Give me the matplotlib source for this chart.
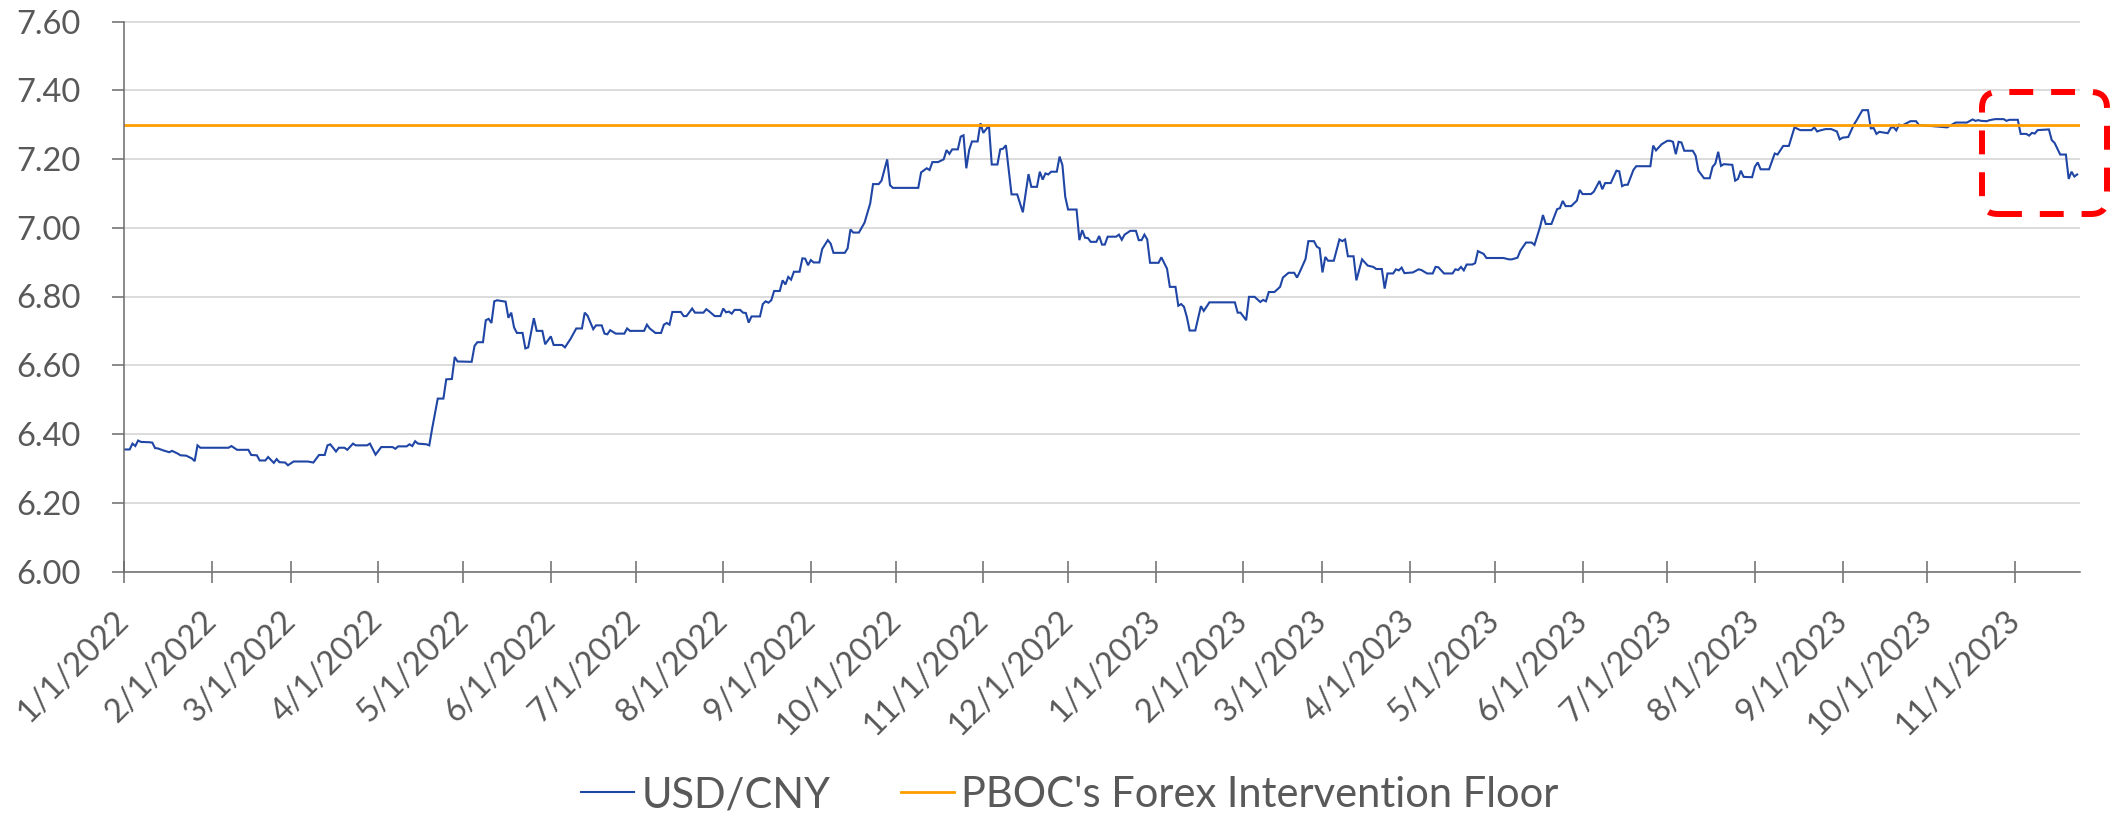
import matplotlib
matplotlib.use("Agg")
import matplotlib.pyplot as plt
from matplotlib.patches import FancyBboxPatch
from matplotlib.transforms import IdentityTransform
import pandas as pd

plt.rcParams['font.family'] = ['Lato', 'DejaVu Sans']

# ---------------- data ----------------
dates = [
 "2022-01-01","2022-01-03","2022-01-04","2022-01-05","2022-01-06","2022-01-07","2022-01-10","2022-01-11",
 "2022-01-12","2022-01-13","2022-01-15","2022-01-17","2022-01-18","2022-01-20","2022-01-21","2022-01-23",
 "2022-01-25","2022-01-26","2022-01-27","2022-01-28","2022-02-07","2022-02-08","2022-02-10","2022-02-14",
 "2022-02-15","2022-02-17","2022-02-18","2022-02-20","2022-02-21","2022-02-23","2022-02-24","2022-02-25",
 "2022-02-27","2022-02-28","2022-03-02","2022-03-07","2022-03-09","2022-03-11","2022-03-13","2022-03-14",
 "2022-03-15","2022-03-17","2022-03-18","2022-03-20","2022-03-21","2022-03-23","2022-03-24","2022-03-28",
 "2022-03-29","2022-03-31","2022-04-02","2022-04-06","2022-04-07","2022-04-08","2022-04-11","2022-04-12",
 "2022-04-13","2022-04-14","2022-04-15","2022-04-18","2022-04-19","2022-04-20","2022-04-22","2022-04-24",
 "2022-04-25","2022-04-27","2022-04-28","2022-04-29","2022-05-04","2022-05-05","2022-05-06","2022-05-08",
 "2022-05-09","2022-05-10","2022-05-11","2022-05-12","2022-05-13","2022-05-16","2022-05-17","2022-05-18",
 "2022-05-19","2022-05-20","2022-05-22","2022-05-23","2022-05-24","2022-05-26","2022-05-27","2022-05-29",
 "2022-05-30","2022-06-01","2022-06-02","2022-06-05","2022-06-06","2022-06-08","2022-06-10","2022-06-12",
 "2022-06-13","2022-06-14","2022-06-16","2022-06-17","2022-06-19","2022-06-20","2022-06-21","2022-06-22",
 "2022-06-24","2022-06-27","2022-06-28","2022-06-29","2022-07-04","2022-07-05","2022-07-06","2022-07-08",
 "2022-07-10","2022-07-11","2022-07-12","2022-07-13","2022-07-14","2022-07-17","2022-07-18","2022-07-19",
 "2022-07-21","2022-07-22","2022-07-25","2022-07-26","2022-07-27","2022-07-29","2022-07-31","2022-08-01",
 "2022-08-02","2022-08-03","2022-08-04","2022-08-05","2022-08-07","2022-08-08","2022-08-09","2022-08-10",
 "2022-08-11","2022-08-14","2022-08-15","2022-08-16","2022-08-17","2022-08-18","2022-08-19","2022-08-21",
 "2022-08-22","2022-08-23","2022-08-24","2022-08-25","2022-08-26","2022-08-28","2022-08-29","2022-08-30",
 "2022-08-31","2022-09-01","2022-09-02","2022-09-04","2022-09-05","2022-09-07","2022-09-08","2022-09-09",
 "2022-09-13","2022-09-14","2022-09-15","2022-09-16","2022-09-18","2022-09-20","2022-09-22","2022-09-23",
 "2022-09-25","2022-09-26","2022-09-28","2022-09-29","2022-09-30","2022-10-09","2022-10-10","2022-10-12",
 "2022-10-13","2022-10-14","2022-10-16","2022-10-18","2022-10-19","2022-10-20","2022-10-21","2022-10-23",
 "2022-10-24","2022-10-25","2022-10-26","2022-10-27","2022-10-28","2022-10-30","2022-10-31","2022-11-01",
 "2022-11-03","2022-11-04","2022-11-06","2022-11-07","2022-11-08","2022-11-09","2022-11-11","2022-11-13",
 "2022-11-15","2022-11-17","2022-11-18","2022-11-20","2022-11-21","2022-11-22","2022-11-23","2022-11-24",
 "2022-11-25","2022-11-27","2022-11-28","2022-11-29","2022-11-30","2022-12-01","2022-12-04","2022-12-05",
 "2022-12-06","2022-12-07","2022-12-08","2022-12-09","2022-12-11","2022-12-12","2022-12-13","2022-12-14",
 "2022-12-15","2022-12-18","2022-12-19","2022-12-20","2022-12-21","2022-12-23","2022-12-25","2022-12-26",
 "2022-12-27","2022-12-28","2022-12-29","2022-12-30","2023-01-02","2023-01-03","2023-01-05","2023-01-06",
 "2023-01-08","2023-01-09","2023-01-10","2023-01-11","2023-01-12","2023-01-13","2023-01-15","2023-01-17",
 "2023-01-18","2023-01-20","2023-01-29","2023-01-30","2023-01-31","2023-02-02","2023-02-03","2023-02-05",
 "2023-02-07","2023-02-08","2023-02-09","2023-02-10","2023-02-12","2023-02-14","2023-02-15","2023-02-17",
 "2023-02-19","2023-02-20","2023-02-21","2023-02-23","2023-02-24","2023-02-26","2023-02-27","2023-02-28",
 "2023-03-01","2023-03-02","2023-03-03","2023-03-05","2023-03-07","2023-03-08","2023-03-09","2023-03-10",
 "2023-03-12","2023-03-13","2023-03-15","2023-03-17","2023-03-19","2023-03-20","2023-03-22","2023-03-23",
 "2023-03-24","2023-03-26","2023-03-27","2023-03-28","2023-03-29","2023-03-30","2023-04-02","2023-04-04",
 "2023-04-05","2023-04-07","2023-04-09","2023-04-10","2023-04-11","2023-04-13","2023-04-16","2023-04-17",
 "2023-04-18","2023-04-19","2023-04-20","2023-04-21","2023-04-23","2023-04-24","2023-04-25","2023-04-27",
 "2023-04-28","2023-05-04","2023-05-06","2023-05-07","2023-05-09","2023-05-10","2023-05-12","2023-05-14",
 "2023-05-15","2023-05-17","2023-05-18","2023-05-19","2023-05-21","2023-05-23","2023-05-24","2023-05-25",
 "2023-05-26","2023-05-28","2023-05-30","2023-05-31","2023-06-01","2023-06-04","2023-06-05","2023-06-07",
 "2023-06-08","2023-06-09","2023-06-11","2023-06-13","2023-06-14","2023-06-15","2023-06-16","2023-06-17",
 "2023-06-19","2023-06-20","2023-06-25","2023-06-26","2023-06-27","2023-06-29","2023-07-01","2023-07-02",
 "2023-07-03","2023-07-04","2023-07-05","2023-07-06","2023-07-07","2023-07-10","2023-07-11","2023-07-12",
 "2023-07-14","2023-07-16","2023-07-17","2023-07-18","2023-07-19","2023-07-20","2023-07-21","2023-07-24",
 "2023-07-25","2023-07-26","2023-07-27","2023-07-28","2023-07-31","2023-08-01","2023-08-02","2023-08-03",
 "2023-08-06","2023-08-08","2023-08-09","2023-08-11","2023-08-13","2023-08-14","2023-08-15","2023-08-17",
 "2023-08-21","2023-08-22","2023-08-23","2023-08-24","2023-08-26","2023-08-28","2023-08-30","2023-08-31",
 "2023-09-01","2023-09-03","2023-09-05","2023-09-06","2023-09-08","2023-09-10","2023-09-11","2023-09-12",
 "2023-09-13","2023-09-14","2023-09-17","2023-09-18","2023-09-19","2023-09-20","2023-09-21","2023-09-22",
 "2023-09-25","2023-09-27","2023-09-28","2023-10-08","2023-10-11","2023-10-15","2023-10-17","2023-10-18",
 "2023-10-19","2023-10-20","2023-10-22","2023-10-23","2023-10-25","2023-10-28","2023-10-29","2023-10-30",
 "2023-11-02","2023-11-03","2023-11-05","2023-11-06","2023-11-07","2023-11-08","2023-11-09","2023-11-13",
 "2023-11-14","2023-11-15","2023-11-17","2023-11-19","2023-11-20","2023-11-21","2023-11-22","2023-11-23",
]

usd_cny = [
 6.355,6.355,6.372,6.365,6.381,6.377,6.376,6.375,
 6.359,6.358,6.352,6.347,6.351,6.343,6.338,6.337,
 6.329,6.321,6.367,6.360,6.360,6.365,6.354,6.354,
 6.339,6.338,6.323,6.323,6.333,6.316,6.327,6.318,
 6.317,6.309,6.320,6.320,6.317,6.339,6.339,6.367,
 6.370,6.349,6.360,6.360,6.354,6.372,6.367,6.367,
 6.372,6.340,6.362,6.362,6.357,6.364,6.364,6.370,
 6.365,6.379,6.372,6.370,6.367,6.415,6.503,6.503,
 6.559,6.560,6.624,6.611,6.610,6.656,6.667,6.667,
 6.731,6.735,6.723,6.786,6.789,6.785,6.738,6.753,
 6.710,6.694,6.694,6.649,6.652,6.737,6.700,6.700,
 6.661,6.684,6.659,6.659,6.652,6.677,6.707,6.707,
 6.753,6.744,6.705,6.716,6.716,6.692,6.690,6.702,
 6.692,6.692,6.707,6.700,6.700,6.718,6.707,6.694,
 6.694,6.718,6.723,6.718,6.755,6.755,6.743,6.743,
 6.765,6.753,6.753,6.763,6.757,6.743,6.743,6.765,
 6.754,6.756,6.750,6.761,6.761,6.753,6.752,6.724,
 6.742,6.742,6.778,6.786,6.782,6.789,6.816,6.816,
 6.847,6.835,6.857,6.849,6.872,6.872,6.911,6.910,
 6.891,6.906,6.899,6.899,6.938,6.964,6.954,6.927,
 6.927,6.940,6.995,6.986,6.986,7.015,7.071,7.127,
 7.127,7.137,7.199,7.124,7.116,7.116,7.161,7.173,
 7.168,7.191,7.191,7.199,7.226,7.215,7.228,7.228,
 7.265,7.269,7.173,7.226,7.251,7.251,7.304,7.276,
 7.297,7.184,7.184,7.228,7.230,7.240,7.097,7.097,
 7.045,7.156,7.119,7.119,7.163,7.140,7.158,7.155,
 7.163,7.163,7.207,7.182,7.090,7.053,7.053,6.964,
 6.993,6.971,6.970,6.959,6.959,6.976,6.951,6.951,
 6.974,6.974,6.980,6.965,6.980,6.991,6.991,6.964,
 6.964,6.980,6.966,6.898,6.898,6.914,6.881,6.828,
 6.828,6.773,6.778,6.770,6.741,6.701,6.701,6.772,
 6.758,6.783,6.783,6.753,6.753,6.731,6.799,6.799,
 6.784,6.790,6.786,6.813,6.813,6.828,6.855,6.869,
 6.869,6.855,6.872,6.909,6.961,6.961,6.945,6.940,
 6.870,6.915,6.904,6.904,6.966,6.961,6.966,6.917,
 6.917,6.847,6.908,6.890,6.886,6.880,6.880,6.823,
 6.867,6.867,6.879,6.876,6.884,6.868,6.870,6.879,
 6.877,6.867,6.867,6.886,6.885,6.867,6.867,6.879,
 6.877,6.886,6.876,6.893,6.893,6.897,6.932,6.924,
 6.912,6.912,6.908,6.908,6.913,6.933,6.957,6.957,
 6.950,7.003,7.037,7.011,7.011,7.054,7.057,7.078,
 7.063,7.063,7.079,7.110,7.098,7.098,7.105,7.136,
 7.112,7.130,7.130,7.166,7.164,7.121,7.125,7.125,
 7.168,7.179,7.179,7.239,7.225,7.243,7.253,7.253,
 7.250,7.214,7.250,7.248,7.224,7.224,7.210,7.166,
 7.144,7.144,7.177,7.187,7.221,7.180,7.185,7.183,
 7.137,7.142,7.166,7.148,7.147,7.178,7.190,7.170,
 7.170,7.216,7.213,7.238,7.238,7.265,7.292,7.284,
 7.284,7.292,7.280,7.283,7.287,7.287,7.280,7.257,
 7.262,7.264,7.300,7.313,7.342,7.342,7.289,7.290,
 7.273,7.279,7.275,7.290,7.293,7.283,7.300,7.297,
 7.310,7.310,7.299,7.292,7.306,7.306,7.315,7.311,
 7.313,7.311,7.310,7.313,7.316,7.316,7.311,7.314,
 7.314,7.273,7.273,7.268,7.276,7.274,7.284,7.286,
 7.255,7.247,7.213,7.213,7.142,7.163,7.149,7.155,
]

floor_value = 7.30

tick_dates = [
 "2022-01-01","2022-02-01","2022-03-01","2022-04-01","2022-05-01","2022-06-01","2022-07-01","2022-08-01",
 "2022-09-01","2022-10-01","2022-11-01","2022-12-01","2023-01-01","2023-02-01","2023-03-01","2023-04-01",
 "2023-05-01","2023-06-01","2023-07-01","2023-08-01","2023-09-01","2023-10-01","2023-11-01",
]
tick_labels = [
 "1/1/2022","2/1/2022","3/1/2022","4/1/2022","5/1/2022","6/1/2022","7/1/2022","8/1/2022",
 "9/1/2022","10/1/2022","11/1/2022","12/1/2022","1/1/2023","2/1/2023","3/1/2023","4/1/2023",
 "5/1/2023","6/1/2023","7/1/2023","8/1/2023","9/1/2023","10/1/2023","11/1/2023",
]
y_ticks = [6.00, 6.20, 6.40, 6.60, 6.80, 7.00, 7.20, 7.40, 7.60]
y_labels = ["6.00", "6.20", "6.40", "6.60", "6.80", "7.00", "7.20", "7.40", "7.60"]
x_start, x_end = "2022-01-01", "2023-11-24"
series_names = ["USD/CNY", "PBOC's Forex Intervention Floor"]

# ---------------- figure ----------------
W, H, DPI = 2111, 816, 100
fig = plt.figure(figsize=(W / DPI, H / DPI), dpi=DPI)
ax = fig.add_axes([124 / W, 1 - 571.5 / H, (2080 - 124) / W, (571.5 - 21.5) / H])

text_col = "#595959"
axis_col = "#6b6b6b"
blue = "#1f45a5"
orange = "#ff9d00"

x = pd.to_datetime(dates)
ax.plot(x, usd_cny, color=blue, lw=1.5, label=series_names[0], zorder=3, solid_joinstyle="miter")
ax.axhline(floor_value, color=orange, lw=2.0, label=series_names[1], zorder=4)

ax.set_xlim(pd.Timestamp(x_start), pd.Timestamp(x_end))
ax.set_ylim(y_ticks[0], y_ticks[-1])
ax.set_yticks(y_ticks)
ax.set_yticklabels(y_labels)
ax.set_xticks(pd.to_datetime(tick_dates))
ax.set_xticklabels(tick_labels, rotation=45, ha="right", va="center", rotation_mode="anchor")

ax.grid(axis="y", color="#d9d9d9", lw=1.3, zorder=0)
ax.set_axisbelow(True)
for s in ("top", "right"):
    ax.spines[s].set_visible(False)
for s in ("left", "bottom"):
    ax.spines[s].set_color(axis_col)
    ax.spines[s].set_linewidth(1.1)
    ax.spines[s].set_zorder(5)

ax.tick_params(axis="y", direction="out", length=8.5, width=1.1, color=axis_col,
               labelsize=23.5, labelcolor=text_col, pad=23)
ax.tick_params(axis="x", direction="inout", length=16, width=1.1, color=axis_col,
               labelsize=23.5, labelcolor=text_col, pad=24)

fig.legend(loc="center", bbox_to_anchor=(1070 / W, 1 - 795 / H), ncol=2, frameon=False,
           fontsize=30, labelcolor=text_col, handlelength=1.27, handletextpad=0.19,
           columnspacing=1.67, borderpad=0)

# red dashed rounded highlight box (in pixel coordinates)
box = FancyBboxPatch((1982, H - 214), 125, 122,
                     boxstyle="round,pad=0,rounding_size=16",
                     transform=IdentityTransform(), fill=False,
                     edgecolor="#ff0000", lw=4.3, linestyle=(0, (4, 3)), zorder=10)
fig.add_artist(box)

fig.savefig("out.png", dpi=DPI)
